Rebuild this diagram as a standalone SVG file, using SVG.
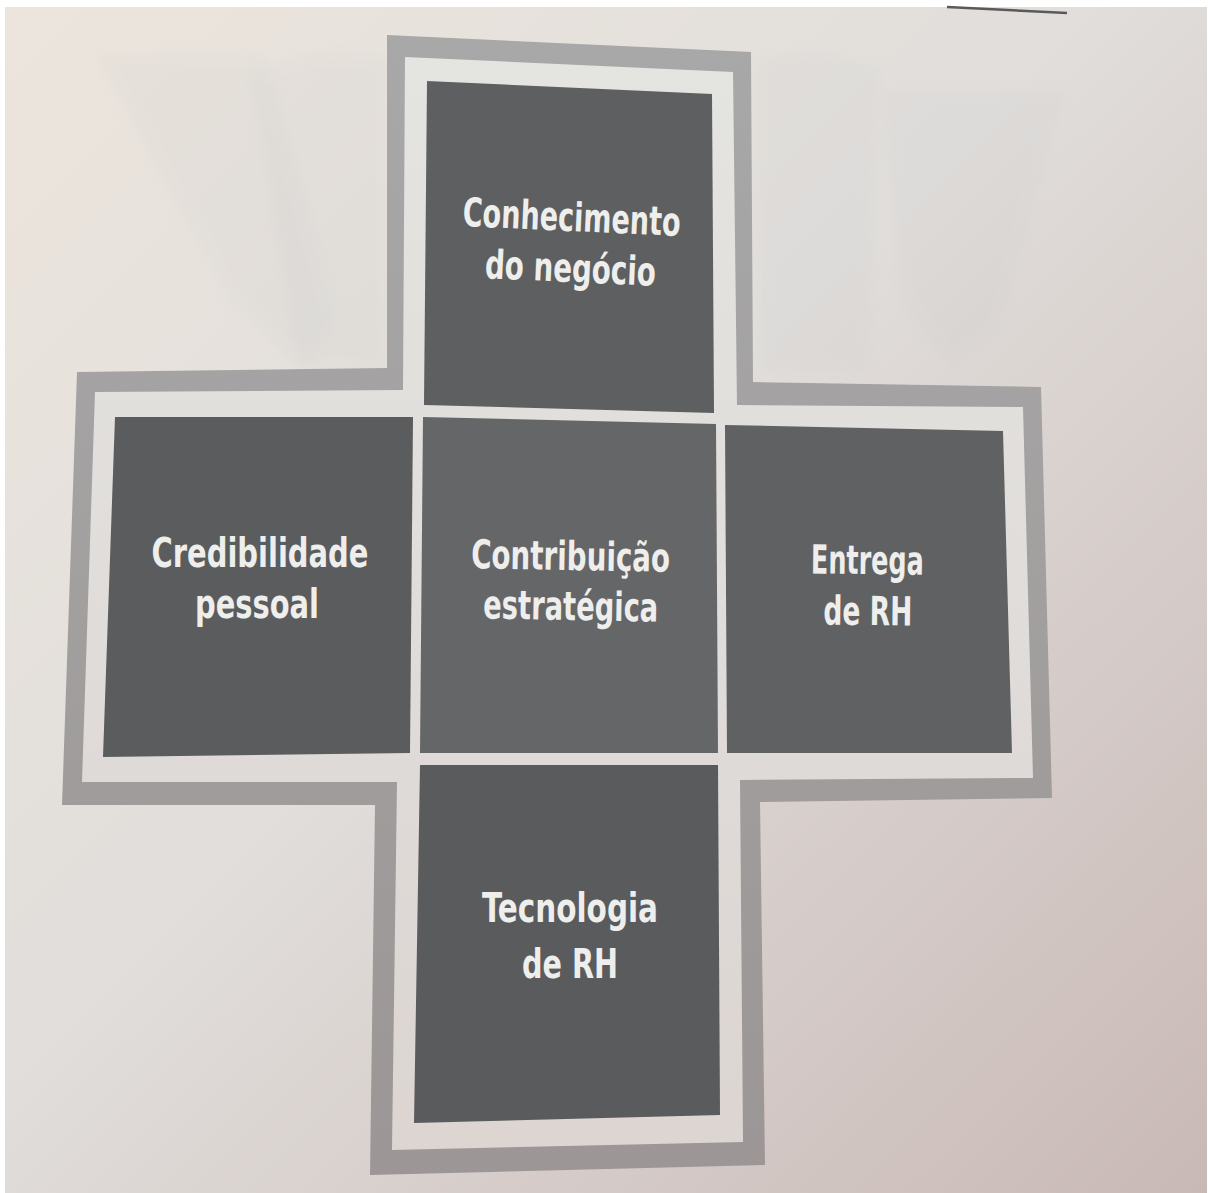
<svg xmlns="http://www.w3.org/2000/svg" width="1208" height="1193" viewBox="0 0 1208 1193">
  <defs>
    <linearGradient id="paper" x1="0" y1="0" x2="1" y2="1">
      <stop offset="0" stop-color="#ece5dd"/>
      <stop offset="0.45" stop-color="#e1dedb"/>
      <stop offset="1" stop-color="#c9b9b6"/>
    </linearGradient>
    <linearGradient id="band" x1="0" y1="0" x2="0" y2="1">
      <stop offset="0" stop-color="#a8a8a8"/>
      <stop offset="1" stop-color="#9c9696"/>
    </linearGradient>
    <linearGradient id="inner" x1="0" y1="0" x2="0" y2="1">
      <stop offset="0" stop-color="#e4e4e1"/>
      <stop offset="1" stop-color="#dcd5d2"/>
    </linearGradient>
    <filter id="soft" x="-10%" y="-10%" width="120%" height="120%">
      <feGaussianBlur stdDeviation="6"/>
    </filter>
    <style>
      .box { stroke: none; }
      .lbl { font-family: "DejaVu Sans Condensed", "DejaVu Sans", "Liberation Sans", sans-serif;
             font-weight: bold; font-size: 40px; fill: #eeeeec; text-anchor: middle; }
      .ghost { fill: #b9c0c6; opacity: 0.09; filter: url(#soft); }
    </style>
  </defs>

  <!-- page -->
  <rect x="0" y="0" width="1208" height="1193" fill="#ffffff"/>
  <rect x="5" y="7" width="1202" height="1186" fill="url(#paper)"/>
  <line x1="947" y1="7" x2="1067" y2="13" stroke="#5a5a5c" stroke-width="2.5"/>

  <!-- faint show-through from the facing page -->
  <path class="ghost" d="M95,55 L265,55 L340,330 L300,370 L230,300 Z"/>
  <path class="ghost" d="M250,75 Q320,40 390,60 L390,370 L300,370 Z"/>
  <path class="ghost" d="M760,60 Q830,45 880,70 L870,370 L760,370 Z"/>
  <path class="ghost" d="M880,90 L1065,90 L1000,330 L950,370 L900,300 Z"/>

  <!-- cross frame -->
  <g id="frame">
    <path fill="url(#band)" d="M387,35 L751,52 L753,382 L1041,387 L1052,798 L760,802 L765,1165 L370,1175 L375,805 L62,805 L77,372 L387,368 Z"/>
    <path fill="url(#inner)" d="M405,57 L733,72 L737,405 L1023,407 L1033,778 L740,780 L743,1142 L392,1150 L397,782 L82,782 L95,392 L403,390 Z"/>
  </g>

  <!-- competency blocks -->
  <g id="node-conhecimento">
    <polygon class="box" fill="#5e5f61" points="427,81 712,94 714,413 424,405"/>
    <g transform="rotate(2.6 570 256)">
      <text class="lbl" x="570" y="231" textLength="218" lengthAdjust="spacingAndGlyphs">Conhecimento</text>
      <text class="lbl" x="571" y="282" textLength="171" lengthAdjust="spacingAndGlyphs">do negócio</text>
    </g>
  </g>

  <g id="node-credibilidade">
    <polygon class="box" fill="#5b5c5e" points="115,417 413,417 410,753 103,757"/>
    <text class="lbl" x="260" y="567" textLength="217" lengthAdjust="spacingAndGlyphs">Credibilidade</text>
    <text class="lbl" x="257" y="618" textLength="124" lengthAdjust="spacingAndGlyphs">pessoal</text>
  </g>

  <g id="node-contribuicao">
    <polygon class="box" fill="#656668" points="423,417 716,424 718,753 420,753"/>
    <g transform="rotate(1 570 594)">
      <text class="lbl" x="570" y="570" textLength="199" lengthAdjust="spacingAndGlyphs">Contribuição</text>
      <text class="lbl" x="571" y="620" textLength="175" lengthAdjust="spacingAndGlyphs">estratégica</text>
    </g>
  </g>

  <g id="node-entrega">
    <polygon class="box" fill="#606163" points="725,425 1003,431 1012,753 727,753"/>
    <g transform="rotate(0.6 867 600)">
      <text class="lbl" x="867" y="574" textLength="113" lengthAdjust="spacingAndGlyphs">Entrega</text>
      <text class="lbl" x="868" y="625" textLength="89" lengthAdjust="spacingAndGlyphs">de RH</text>
    </g>
  </g>

  <g id="node-tecnologia">
    <polygon class="box" fill="#5a5b5d" points="420,765 718,765 720,1115 414,1123"/>
    <text class="lbl" x="570" y="922" textLength="176" lengthAdjust="spacingAndGlyphs">Tecnologia</text>
    <text class="lbl" x="570" y="978" textLength="96" lengthAdjust="spacingAndGlyphs">de RH</text>
  </g>

  <!-- the blocks touch edge to edge; no connecting lines are drawn -->
  <g id="connectors"/>
</svg>
